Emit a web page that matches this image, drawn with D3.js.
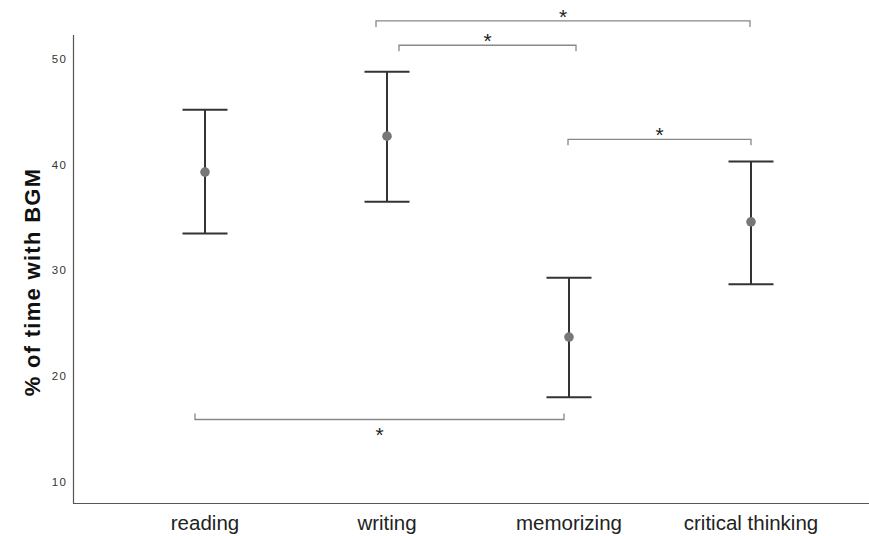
<!DOCTYPE html>
<html>
<head>
<meta charset="utf-8">
<script src="https://cdn.jsdelivr.net/npm/d3@7"></script>
<style>
  body { margin: 0; background: #fff; overflow: hidden; }
  svg { display: block; }
</style>
</head>
<body>
<svg id="chart" width="869" height="536"></svg>
<script>
// data
var categories = ["reading", "writing", "memorizing", "critical thinking"]
var means = [39.3, 42.7, 23.7, 34.6]
var upper = [45.2, 48.8, 29.3, 40.3]
var lower = [33.5, 36.5, 18.0, 28.7]
var yTicks = [10, 20, 30, 40, 50]

// significance brackets: [from, to, level, side]
var brackets = [
  ["writing", "critical thinking", 53.6, "up"],
  ["writing", "memorizing", 51.3, "up"],
  ["memorizing", "critical thinking", 42.4, "up"],
  ["reading", "memorizing", 15.9, "down"]
]
// small horizontal nudges of the bracket ends (px), as in the figure
var bracketNudge = [[-11, -1], [12, 7], [-1, 0], [-10, -5]]

var svg = d3.select("#chart")

var x = d3.scalePoint()
  .domain(categories)
  .range([205, 751])

var y = d3.scaleLinear()
  .domain([8, 52.27])
  .range([503, 35])

// axes
svg.append("line")
  .attr("x1", 73.5).attr("x2", 73.5)
  .attr("y1", y(52.27)).attr("y2", 503.5)
  .attr("stroke", "#555").attr("stroke-width", 1.2)
svg.append("line")
  .attr("x1", 73).attr("x2", 869)
  .attr("y1", 503.5).attr("y2", 503.5)
  .attr("stroke", "#555").attr("stroke-width", 1.2)

svg.selectAll("text.ytick")
  .data(yTicks)
  .join("text")
  .attr("class", "ytick")
  .attr("x", 67)
  .attr("y", d => y(d))
  .attr("dy", "0.35em")
  .attr("text-anchor", "end")
  .attr("font-family", "Liberation Sans, Arial, sans-serif")
  .attr("font-size", 11.5)
  .attr("letter-spacing", 1.2)
  .attr("fill", "#333")
  .text(d => d)

svg.append("text")
  .attr("transform", "translate(32," + 282 + ") rotate(-90)")
  .attr("text-anchor", "middle")
  .attr("dy", "0.35em")
  .attr("font-family", "Liberation Sans, Arial, sans-serif")
  .attr("font-weight", "bold")
  .attr("font-size", 22)
  .attr("letter-spacing", 1.3)
  .attr("fill", "#111")
  .text("% of time with BGM")

svg.selectAll("text.xlab")
  .data(categories)
  .join("text")
  .attr("class", "xlab")
  .attr("x", d => x(d))
  .attr("y", 530)
  .attr("text-anchor", "middle")
  .attr("font-family", "Liberation Sans, Arial, sans-serif")
  .attr("font-size", 20.5)
  .attr("fill", "#222")
  .text(d => d)

// error bars
var capHalf = 22.5
var bars = svg.selectAll("g.bar")
  .data(categories)
  .join("g")
  .attr("class", "bar")
  .attr("stroke", "#333")
  .attr("stroke-width", 2)

bars.append("line")
  .attr("x1", d => x(d)).attr("x2", d => x(d))
  .attr("y1", (d, i) => y(upper[i])).attr("y2", (d, i) => y(lower[i]))
bars.append("line")
  .attr("x1", d => x(d) - capHalf).attr("x2", d => x(d) + capHalf)
  .attr("y1", (d, i) => y(upper[i])).attr("y2", (d, i) => y(upper[i]))
bars.append("line")
  .attr("x1", d => x(d) - capHalf).attr("x2", d => x(d) + capHalf)
  .attr("y1", (d, i) => y(lower[i])).attr("y2", (d, i) => y(lower[i]))

svg.selectAll("circle.mean")
  .data(categories)
  .join("circle")
  .attr("class", "mean")
  .attr("cx", d => x(d))
  .attr("cy", (d, i) => y(means[i]))
  .attr("r", 4.8)
  .attr("fill", "#777")

// brackets
var tick = 6
var br = svg.selectAll("g.bracket")
  .data(brackets)
  .join("g")
  .attr("class", "bracket")

br.append("path")
  .attr("fill", "none")
  .attr("stroke", "#888")
  .attr("stroke-width", 1.3)
  .attr("d", (d, i) => {
    var x1 = x(d[0]) + bracketNudge[i][0]
    var x2 = x(d[1]) + bracketNudge[i][1]
    var yy = y(d[2])
    var t = d[3] == "up" ? tick : -tick
    return "M" + x1 + "," + (yy + t) + "V" + yy + "H" + x2 + "V" + (yy + t)
  })

br.append("text")
  .attr("x", (d, i) => (x(d[0]) + bracketNudge[i][0] + x(d[1]) + bracketNudge[i][1]) / 2)
  .attr("y", d => d[3] == "up" ? y(d[2]) + 3 : y(d[2]) + 23)
  .attr("text-anchor", "middle")
  .attr("font-family", "Liberation Sans, Arial, sans-serif")
  .attr("font-size", 21)
  .attr("fill", "#222")
  .text("*")
</script>
</body>
</html>
